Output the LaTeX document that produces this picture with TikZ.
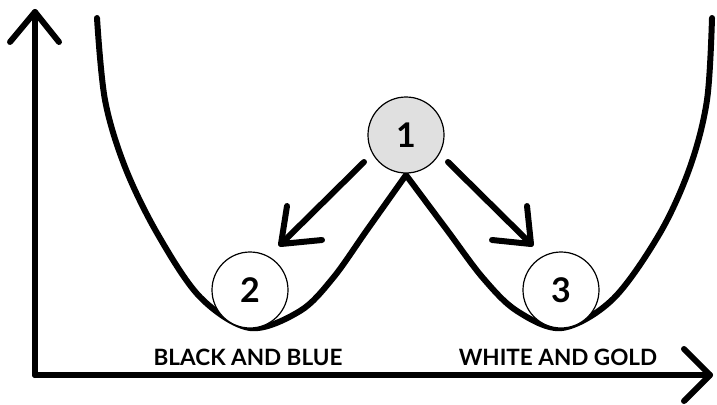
\documentclass[tikz,border=0pt]{standalone}
\usepackage{fontspec}
\setmainfont{Lato}
\begin{document}
\begin{tikzpicture}[x=1pt,y=-1pt,
  thickline/.style={line width=6pt,line cap=round,line join=round},
  ball/.style={circle,draw,line width=1.2pt,minimum size=76pt,inner sep=0pt,font=\fontsize{34}{34}\selectfont\bfseries},
  lbl/.style={font=\fontsize{22.5}{22.5}\selectfont\bfseries,inner sep=0pt}]
\useasboundingbox (0,0) rectangle (717,404);
% axes
\coordinate (O) at (35,375);
\coordinate (ytop) at (35,12);
\coordinate (xend) at (710,375);
\draw[thickline] (O) -- (ytop);
\draw[thickline] (10,42) -- (ytop) -- (59,42);
\draw[thickline] (O) -- (xend);
\draw[thickline] (684,349) -- (xend) -- (684,401);
% curve
\draw[thickline] plot[smooth,tension=0.55] coordinates {(97,18) (105,100) (125,167) (157,233) (200,297) (250,328) (300,311) (333,278) (367,230) (406,175)};
\draw[thickline] plot[smooth,tension=0.55] coordinates {(406,175) (447,230) (483,278) (517,311) (562,328) (613,299) (660,233) (690,167) (707,100) (712,18)};
% balls
\node[ball,fill=black!12] (b1) at (406,135) {1};
\node[ball,fill=white] (b2) at (250,290) {2};
\node[ball,fill=white] (b3) at (561,290) {3};
% arrows
\coordinate (a1s) at (364,162);
\coordinate (a1e) at (281,244);
\coordinate (a2s) at (448,162);
\coordinate (a2e) at (531,244);
\draw[thickline] (a1s) -- (a1e);
\draw[thickline] (287,206) -- (a1e) -- (322,240);
\draw[thickline] (a2s) -- (a2e);
\draw[thickline] (527,206) -- (a2e) -- (492,240);
% labels
\node[lbl] (l1) at (248,357) {BLACK AND BLUE};
\node[lbl] (l2) at (558,357) {WHITE AND GOLD};
\end{tikzpicture}
\end{document}
